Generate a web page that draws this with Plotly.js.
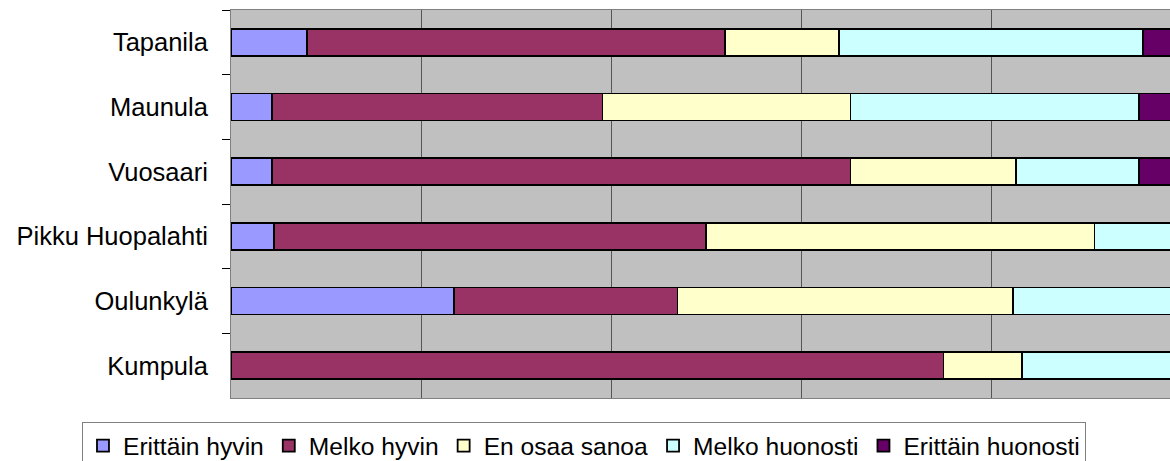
<!DOCTYPE html>
<html>
<head>
<meta charset="utf-8">
<script src="https://cdn.plot.ly/plotly-3.0.1.min.js"></script>
<style>
html,body{margin:0;padding:0;background:#fff;overflow:hidden;}
#chart{width:1170px;height:461px;}
</style>
</head>
<body>
<div id="chart"></div>
<script>
const categories = ["Tapanila", "Maunula", "Vuosaari", "Pikku Huopalahti", "Oulunkylä", "Kumpula"];
const seriesNames = ["Erittäin hyvin", "Melko hyvin", "En osaa sanoa", "Melko huonosti", "Erittäin huonosti"];
const erittainHyvin    = [8,    4.3,  4.3,  4.5,  23.5, 0];
const melkoHyvin       = [44,   34.8, 60.9, 45.5, 23.5, 75];
const enOsaaSanoa      = [12,   26.1, 17.4, 40.9, 35.3, 8.3];
const melkoHuonosti    = [32,   30.4, 13.0, 9.1,  17.6, 16.7];
const erittainHuonosti = [4,    4.3,  4.3,  0,    0,    0];

const seriesValues = [erittainHyvin, melkoHyvin, enOsaaSanoa, melkoHuonosti, erittainHuonosti];
const colors = ["#9999FF", "#993366", "#FFFFCC", "#CCFFFF", "#660066"];

const traces = seriesValues.map((vals, i) => ({
  type: "bar",
  orientation: "h",
  name: seriesNames[i],
  y: categories,
  x: vals,
  marker: {color: colors[i], line: {color: "#000000", width: 1.8}},
  hoverinfo: "skip"
}));

const layout = {
  width: 1170,
  height: 461,
  barmode: "stack",
  bargap: 0.58,
  paper_bgcolor: "#FFFFFF",
  plot_bgcolor: "#C0C0C0",
  font: {family: "Liberation Sans, Arial, sans-serif", size: 25, color: "#000000"},
  margin: {l: 231, r: 0, t: 10, b: 63, autoexpand: false},
  xaxis: {
    range: [0, 98.84],
    dtick: 20,
    showgrid: true,
    gridcolor: "#555555",
    gridwidth: 1,
    zeroline: false,
    showticklabels: false,
    ticks: "",
    showline: true,
    mirror: true,
    linecolor: "#808080",
    linewidth: 1
  },
  yaxis: {
    autorange: "reversed",
    type: "category",
    tickson: "boundaries",
    ticks: "outside",
    ticklen: 8,
    tickcolor: "#000000",
    ticklabelstandoff: 17,
    showgrid: false,
    zeroline: false,
    showline: true,
    linecolor: "#808080",
    linewidth: 1,
    tickfont: {size: 25.5}
  },
  showlegend: true,
  legend: {
    orientation: "h",
    x: -0.1587,
    xanchor: "left",
    y: -0.062,
    yanchor: "top",
    bgcolor: "#FFFFFF",
    bordercolor: "#808080",
    borderwidth: 1,
    font: {size: 24.6},
    itemwidth: 30,
    traceorder: "normal"
  }
};

Plotly.newPlot("chart", traces, layout, {staticPlot: true, displayModeBar: false});
</script>
</body>
</html>
